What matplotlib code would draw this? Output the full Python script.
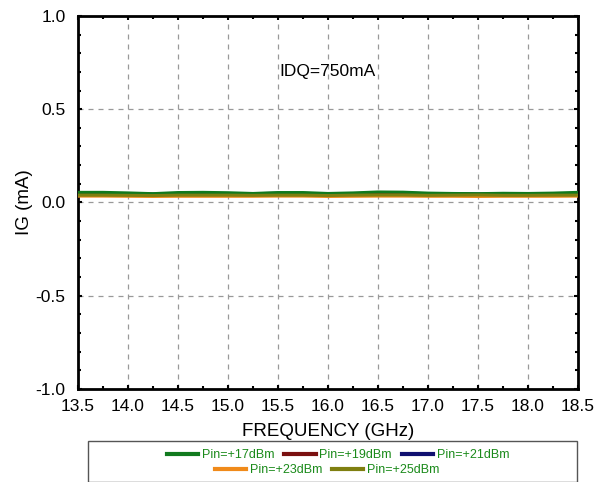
import matplotlib
matplotlib.use("Agg")
import matplotlib.pyplot as plt
from matplotlib.ticker import MultipleLocator, FormatStrFormatter
from matplotlib.lines import Line2D
from matplotlib.patches import Rectangle

plt.rcParams['font.family'] = ['Liberation Sans', 'DejaVu Sans']

freq = [13.5, 13.75, 14.0, 14.25, 14.5, 14.75, 15.0, 15.25, 15.5, 15.75, 16.0,
        16.25, 16.5, 16.75, 17.0, 17.25, 17.5, 17.75, 18.0, 18.25, 18.5]
ig_17 = [0.054, 0.054, 0.051, 0.047, 0.053, 0.054, 0.052, 0.048, 0.053, 0.053, 0.048,
         0.051, 0.056, 0.055, 0.050, 0.048, 0.047, 0.049, 0.048, 0.050, 0.054]
ig_19 = [0.046, 0.045, 0.045, 0.043, 0.045, 0.045, 0.045, 0.044, 0.045, 0.045, 0.044,
         0.044, 0.046, 0.046, 0.044, 0.044, 0.043, 0.044, 0.044, 0.044, 0.045]
ig_21 = [0.048, 0.048, 0.046, 0.045, 0.047, 0.047, 0.047, 0.047, 0.049, 0.049, 0.045,
         0.047, 0.050, 0.050, 0.047, 0.046, 0.045, 0.046, 0.047, 0.046, 0.047]
ig_23 = [0.034, 0.034, 0.033, 0.032, 0.033, 0.033, 0.033, 0.033, 0.034, 0.034, 0.032,
         0.033, 0.034, 0.034, 0.033, 0.033, 0.032, 0.033, 0.033, 0.033, 0.034]
ig_25 = [0.039, 0.039, 0.038, 0.037, 0.039, 0.039, 0.039, 0.038, 0.039, 0.039, 0.037,
         0.039, 0.040, 0.040, 0.038, 0.039, 0.040, 0.038, 0.038, 0.039, 0.039]

labels = ['Pin=+17dBm', 'Pin=+19dBm', 'Pin=+21dBm', 'Pin=+23dBm', 'Pin=+25dBm']
colors = ['#117a1e', '#7a1010', '#101070', '#f08a1a', '#7f7f10']
series = [ig_17, ig_19, ig_21, ig_23, ig_25]

fig = plt.figure(figsize=(6.04, 4.82), dpi=100)
ax = fig.add_axes([0.129, 0.193, 0.828, 0.774])

draw_order = [2, 1, 0, 3, 4]
for i in draw_order:
    ax.plot(freq, series[i], color=colors[i], lw=2.2, label=labels[i], zorder=3)

ax.set_xlim(13.5, 18.5)
ax.set_ylim(-1.0, 1.0)
ax.xaxis.set_major_locator(MultipleLocator(0.5))
ax.xaxis.set_minor_locator(MultipleLocator(0.25))
ax.yaxis.set_major_locator(MultipleLocator(0.5))
ax.yaxis.set_minor_locator(MultipleLocator(0.1))
ax.xaxis.set_major_formatter(FormatStrFormatter('%.1f'))
ax.yaxis.set_major_formatter(FormatStrFormatter('%.1f'))
ax.tick_params(which='both', direction='in', top=True, right=True, width=1.5, colors='black',
               labelsize=12.5)
ax.tick_params(which='major', length=3)
ax.tick_params(which='minor', length=2)
ax.tick_params(axis='x', which='major', pad=7)
ax.tick_params(axis='y', which='major', pad=9)
ax.grid(True, which='major', linestyle=(0, (4, 4)), color='#999999', lw=0.9)
for s in ax.spines.values():
    s.set_linewidth(2)

ax.set_xlabel('FREQUENCY (GHz)', fontsize=13.5, labelpad=7)
ax.set_ylabel('IG (mA)', fontsize=13.5, labelpad=2)
ax.text(16.0, 0.7, 'IDQ=750mA', fontsize=12.5, ha='center', va='center')

# legend box
fig.patches.append(Rectangle((88 / 604, 0.0), 489 / 604, 41 / 482, transform=fig.transFigure,
                             fill=False, edgecolor='#555555', lw=1.0))
h = [Line2D([0], [0], color=c, lw=3) for c in colors]
leg1 = fig.legend(h[:3], labels[:3], loc='center', bbox_to_anchor=(338 / 604, 1 - 455 / 482),
                  ncol=3, frameon=False, fontsize=9, handlelength=2.5, columnspacing=0.8,
                  handletextpad=0.3, borderaxespad=0, borderpad=0)
leg2 = fig.legend(h[3:], labels[3:], loc='center', bbox_to_anchor=(327 / 604, 1 - 470 / 482),
                  ncol=2, frameon=False, fontsize=9, handlelength=2.5, columnspacing=0.8,
                  handletextpad=0.3, borderaxespad=0, borderpad=0)
for leg in (leg1, leg2):
    for t in leg.get_texts():
        t.set_color('#1a8a1a')

fig.savefig('out.png', dpi=100)
